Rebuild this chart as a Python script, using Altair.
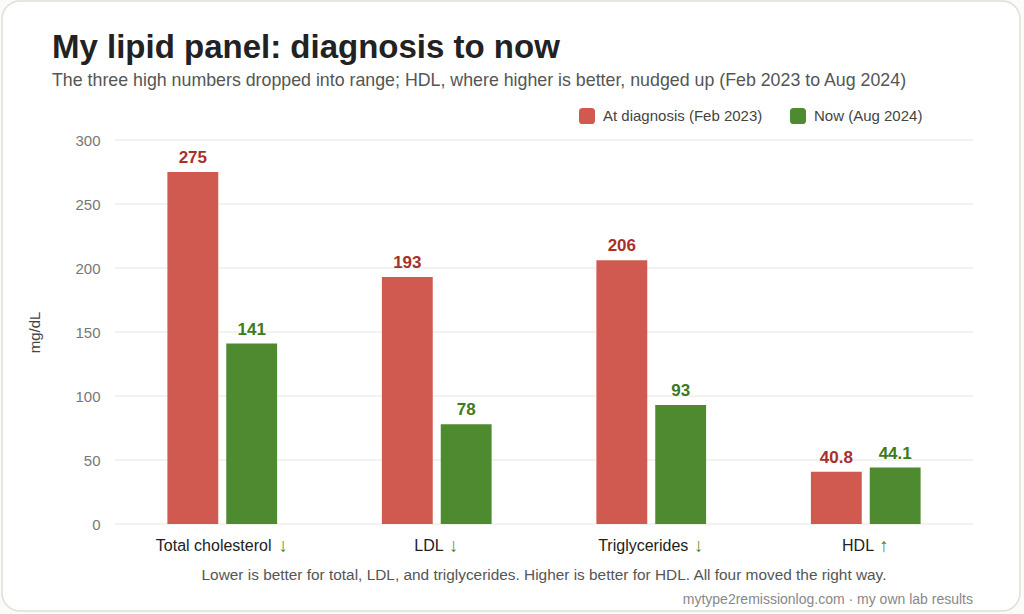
import altair as alt
import pandas as pd

# Lipid panel values, mg/dL
categories = ["Total cholesterol", "LDL", "Triglycerides", "HDL"]
arrows = ["↓", "↓", "↓", "↑"]
series = ["At diagnosis (Feb 2023)", "Now (Aug 2024)"]
diagnosis = [275, 193, 206, 40.8]
now = [141, 78, 93, 44.1]
y_ticks = [0, 50, 100, 150, 200, 250, 300]

RED = "#d05a50"
GREEN = "#4e8a30"
RED_TEXT = "#a8302b"
GREEN_TEXT = "#3e7a1e"
FONT = "Liberation Sans"

W, H = 858, 384

rows = []
for c, d, n in zip(categories, diagnosis, now):
    rows.append({"category": c, "series": series[0], "value": d, "label": f"{d:g}"})
    rows.append({"category": c, "series": series[1], "value": n, "label": f"{n:g}"})
df = pd.DataFrame(rows)

x_enc = alt.X("category:N", sort=categories,
              scale=alt.Scale(paddingInner=0, paddingOuter=0),
              axis=alt.Axis(labels=False, ticks=False, domain=False, title=None, grid=False))
xo_enc = alt.XOffset("series:N", sort=series,
                     scale=alt.Scale(domain=series, paddingInner=0.136, paddingOuter=0.89))
y_scale = alt.Scale(domain=[0, 300], nice=False, zero=True)
y_enc = alt.Y("value:Q", scale=y_scale,
              axis=alt.Axis(values=y_ticks, title="mg/dL", ticks=False, domain=False, grid=False,
                            zindex=1,
                            labelFontSize=15, labelColor="#777777", labelPadding=15, labelFont=FONT,
                            titleFontSize=15, titleFontWeight="normal", titleColor="#444444",
                            titleFont=FONT, titleAngle=270, titleX=-81, titleY=192,
                            titleAlign="center", titleBaseline="middle"))

one = pd.DataFrame({"k": [0]})

# Card frame behind everything
card = alt.Chart(one).mark_rect(
    fill="white", stroke="#dedfd8", strokeWidth=1.5, cornerRadius=18
).encode(x=alt.value(-113), x2=alt.value(W + 47), y=alt.value(-139), y2=alt.value(H + 87))

# Horizontal gridlines at the tick values, drawn under the bars
grid = alt.Chart(pd.DataFrame({"tick": y_ticks})).mark_rule(
    color="#e6e6e0", strokeWidth=1
).encode(y=alt.Y("tick:Q", scale=y_scale), x=alt.value(0), x2=alt.value(W))

legend_symbol = "M-1,-0.55 Q-1,-1 -0.55,-1 L0.55,-1 Q1,-1 1,-0.55 L1,0.55 Q1,1 0.55,1 L-0.55,1 Q-1,1 -1,0.55 Z"

bars = alt.Chart(df).mark_bar().encode(
    x=x_enc, xOffset=xo_enc, y=y_enc,
    color=alt.Color("series:N", sort=series,
                    scale=alt.Scale(domain=series, range=[RED, GREEN]),
                    legend=alt.Legend(orient="none", legendX=464, legendY=-32, direction="horizontal",
                                      title=None, symbolType=legend_symbol, symbolSize=256,
                                      symbolStrokeWidth=0, labelFontSize=15, labelColor="#444444",
                                      labelFont=FONT, labelOffset=8, columnPadding=27, padding=0)),
)

value_layers = []
for s, col in zip(series, [RED_TEXT, GREEN_TEXT]):
    value_layers.append(
        alt.Chart(df).transform_filter(alt.datum.series == s).mark_text(
            baseline="alphabetic", dy=-9, fontSize=17, fontWeight="bold", color=col, font=FONT
        ).encode(x=x_enc, xOffset=xo_enc, y=y_enc, text="label:N")
    )

# Advance widths (per 1000 em) for the category label glyphs
ADV = {' ': 278, 'T': 611, 'o': 556, 't': 278, 'a': 556, 'l': 222, 'c': 500, 'h': 556,
       'e': 556, 's': 500, 'r': 333, 'L': 556, 'D': 722, 'i': 222, 'g': 556, 'y': 500,
       'd': 556, 'H': 722}
LABEL_SIZE = 16
ARROW_SLOT = 11.0


def text_width(s, size):
    return sum(ADV.get(ch, 556) for ch in s) * size / 1000.0


cat_df = pd.DataFrame({"category": categories, "arrow": arrows})
label_layers = []
for c in categories:
    name_w = text_width(c, LABEL_SIZE)
    space_w = text_width(" ", LABEL_SIZE)
    total = name_w + space_w + ARROW_SLOT
    start = -total / 2
    label_layers.append(
        alt.Chart(cat_df).transform_filter(alt.datum.category == c).mark_text(
            align="left", baseline="alphabetic", dx=start, fontSize=LABEL_SIZE,
            color="#222222", font=FONT
        ).encode(x=x_enc, y=alt.value(H + 27), text="category:N")
    )
    label_layers.append(
        alt.Chart(cat_df).transform_filter(alt.datum.category == c).mark_text(
            align="center", baseline="alphabetic", dx=start + name_w + space_w + ARROW_SLOT / 2,
            fontSize=19, color=GREEN, font=FONT
        ).encode(x=x_enc, y=alt.value(H + 28), text="arrow:N")
    )


def free_text(text, x, y, size, color, weight="normal", align="left"):
    return alt.Chart(pd.DataFrame({"t": [text]})).mark_text(
        align=align, baseline="alphabetic", fontSize=size, fontWeight=weight,
        color=color, font=FONT
    ).encode(x=alt.value(x), y=alt.value(y), text="t:N")


title = free_text("My lipid panel: diagnosis to now", -63, -82, 33, "#222222", "bold")
subtitle = free_text(
    "The three high numbers dropped into range; HDL, where higher is better, nudged up (Feb 2023 to Aug 2024)",
    -63, -54, 17.8, "#555555")
note = free_text(
    "Lower is better for total, LDL, and triglycerides. Higher is better for HDL. All four moved the right way.",
    W / 2, H + 56, 15.4, "#555555", align="center")
source = free_text("mytype2remissionlog.com · my own lab results", W, H + 80, 14, "#888888", align="right")

chart = alt.layer(
    card, grid, bars, *value_layers, *label_layers, title, subtitle, note, source
).properties(
    width=W, height=H, autosize="none",
    padding={"left": 115, "top": 140, "right": 1024 - 115 - W, "bottom": 614 - 140 - H},
    background="#fbfbfa",
).configure_view(stroke=None)

chart.save("out.html", embed_options={"renderer": "svg", "actions": False})
